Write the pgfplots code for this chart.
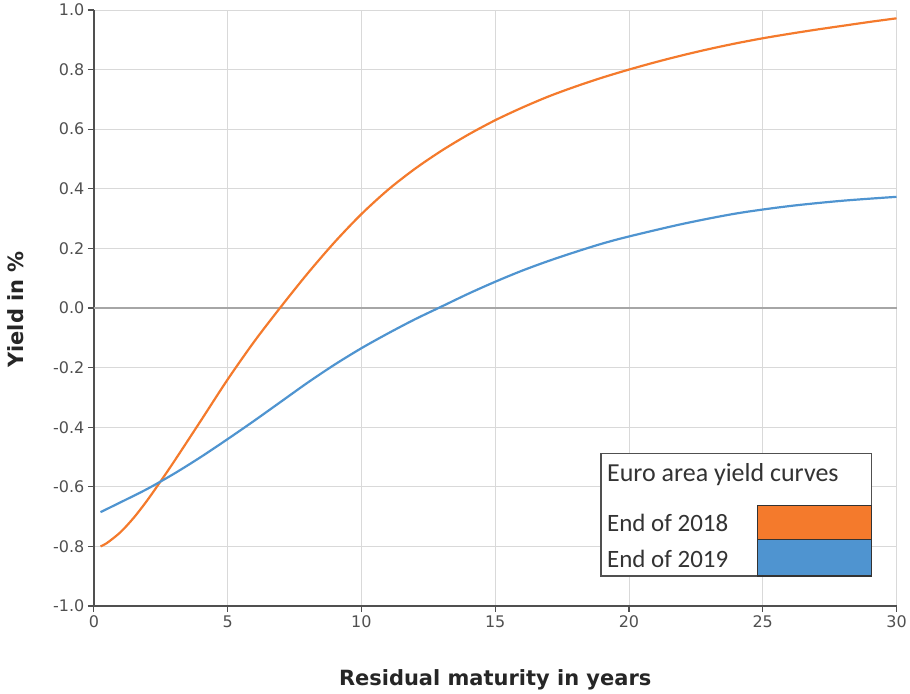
\documentclass[border=0pt]{standalone}
\usepackage{fontspec}
\setmainfont{DejaVu Sans}
\newfontfamily\legfont{Carlito}
\usepackage{pgfplots}
\pgfplotsset{compat=1.18}
\definecolor{orng}{HTML}{F47A2C}
\definecolor{blu}{HTML}{4F94D0}
\definecolor{tickgray}{HTML}{505050}
\definecolor{axgray}{HTML}{505050}
\begin{document}
\begin{tikzpicture}[x=1pt,y=1pt]
\path (0,0) rectangle (910,693);
\begin{axis}[
  at={(94pt,86pt)}, anchor=south west,
  scale only axis, width=804pt, height=597pt,
  xmin=0, xmax=30, ymin=-1, ymax=1,
  xtick={0,5,10,15,20,25,30},
  ytick={-1,-0.8,-0.6,-0.4,-0.2,0,0.2,0.4,0.6,0.8,1},
  grid=major,
  major grid style={draw=black!15, line width=0.9pt},
  axis lines=left,
  axis line style={-, draw=axgray, line width=1.6pt},
  tick style={draw=axgray, line width=1.3pt},
  tick align=outside,
  major tick length=6pt,
  /pgf/number format/assume math mode=true,
  ticklabel style={font=\fontsize{16}{16}\selectfont, text=tickgray},
  yticklabel style={/pgf/number format/fixed, /pgf/number format/fixed zerofill, /pgf/number format/precision=1},
  xticklabel style={/pgf/number format/fixed},
  clip=false,
]
\draw[draw=black!35, line width=1.6pt] (axis cs:0,0) -- (axis cs:30,0);
\addplot[orng, line width=2.2pt, smooth] coordinates {
(0.25,-0.80) (0.5,-0.788) (1,-0.752) (1.5,-0.703) (2,-0.645) (2.5,-0.581)
(3,-0.515) (4,-0.378) (5,-0.24) (6,-0.112) (7,0.005) (8,0.117)
(9,0.221) (10,0.315) (11,0.397) (12,0.467) (13,0.528) (14,0.582)
(15,0.63) (16,0.672) (17,0.71) (18,0.743) (19,0.773) (20,0.80)
(21,0.825) (22,0.848) (23,0.869) (24,0.888) (25,0.905) (26,0.92)
(27,0.934) (28,0.947) (29,0.96) (30,0.972)
};
\addplot[blu, line width=2.2pt, smooth] coordinates {
(0.25,-0.685) (1,-0.652) (2,-0.607) (3,-0.556) (4,-0.50) (5,-0.44)
(6,-0.378) (7,-0.314) (8,-0.25) (9,-0.19) (10,-0.135) (11,-0.085)
(12,-0.038) (13,0.005) (14,0.048) (15,0.088) (16,0.125) (17,0.158)
(18,0.188) (19,0.216) (20,0.24) (22,0.282) (24,0.317) (26,0.342)
(28,0.36) (30,0.373)
};
\end{axis}
% axis titles
\node[anchor=base, font=\bfseries\fontsize{21}{21}\selectfont, text=black!85] at (496,6) {Residual maturity in years};
\node[anchor=base, rotate=90, font=\bfseries\fontsize{21}{21}\selectfont, text=black!85] at (24,383) {Yield in \%};
% legend box
\draw[draw=axgray, line width=1.2pt, fill=white] (602,239) rectangle (873,116);
\draw[draw=black!80, line width=1.2pt, fill=orng] (759,187) rectangle (873,153);
\draw[draw=black!80, line width=1.2pt, fill=blu] (759,153) rectangle (873,116);
\node[anchor=base west, inner sep=0pt, font=\legfont\fontsize{26}{26}\selectfont, text=black!80] at (608,211) {Euro area yield curves};
\node[anchor=base west, inner sep=0pt, font=\legfont\fontsize{25}{25}\selectfont, text=black!80] at (608,161) {End of 2018};
\node[anchor=base west, inner sep=0pt, font=\legfont\fontsize{25}{25}\selectfont, text=black!80] at (608,125) {End of 2019};
\end{tikzpicture}
\end{document}
